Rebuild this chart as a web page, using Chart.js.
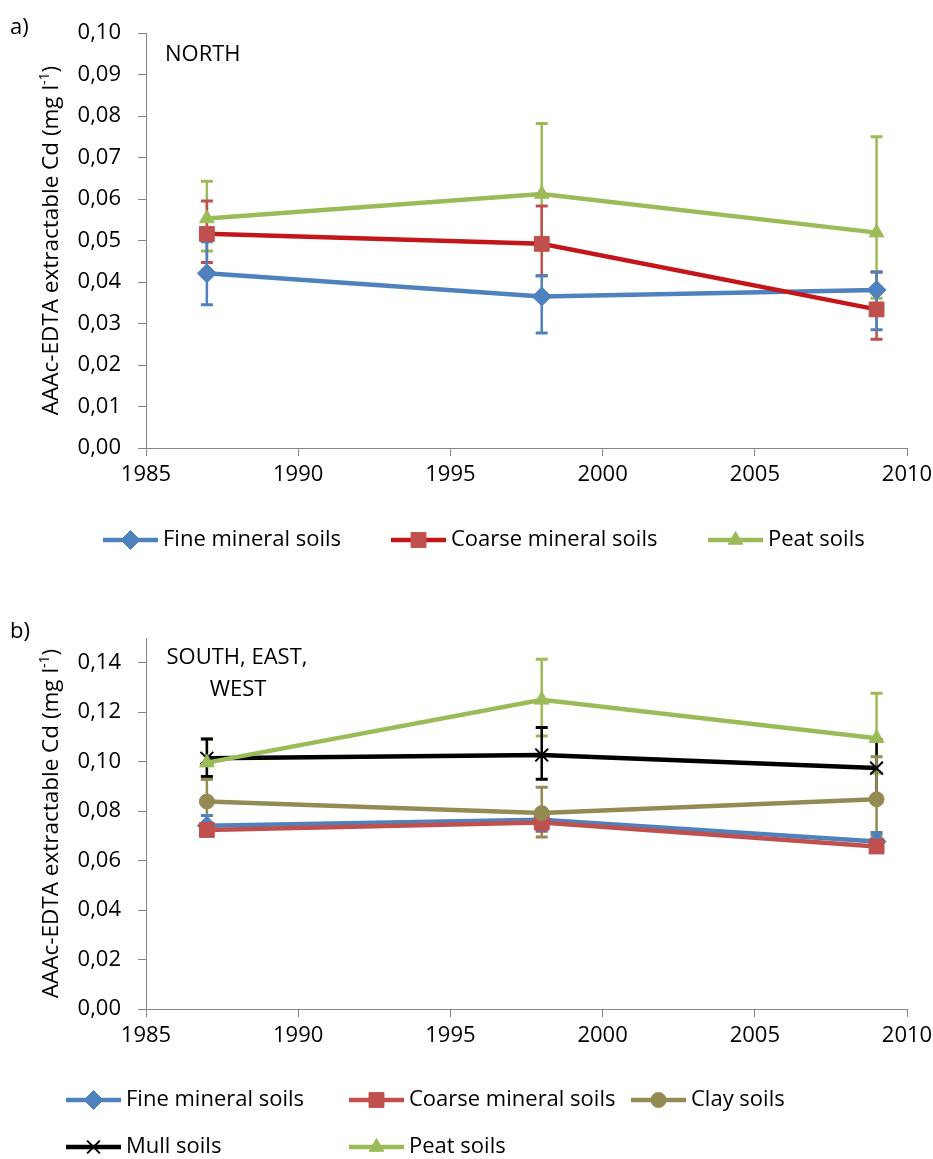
<!DOCTYPE html>
<html>
<head>
<meta charset="utf-8">
<script src="https://cdn.jsdelivr.net/npm/chart.js@4"></script>
<style>
  body { margin: 0; background: #fff; }
  canvas { display: block; }
</style>
</head>
<body>
<canvas id="chartA" width="933" height="580"></canvas>
<canvas id="chartB" width="933" height="579"></canvas>
<script>
const years = [1987, 1998, 2009];
const xTicks = [1985, 1990, 1995, 2000, 2005, 2010];

// a) NORTH
const northFine = [0.0421, 0.0365, 0.0381];
const northFinePlus = [0.0076, 0.0050, 0.0043];
const northFineMinus = [0.0076, 0.0088, 0.0096];
const northCoarse = [0.0516, 0.0492, 0.0334];
const northCoarsePlus = [0.0079, 0.0091, 0.0090];
const northCoarseMinus = [0.0069, 0.0077, 0.0072];
const northPeat = [0.0553, 0.0612, 0.0519];
const northPeatPlus = [0.0090, 0.0170, 0.0231];
const northPeatMinus = [0.0078, 0.0125, 0.0158];

// b) SOUTH, EAST, WEST
const southFine = [0.0741, 0.0765, 0.0677];
const southFinePlus = [0.0041, 0.0040, 0.0037];
const southFineMinus = [0.0041, 0.0040, 0.0037];
const southCoarse = [0.0724, 0.0754, 0.0657];
const southCoarsePlus = [0.0020, 0.0035, 0.0020];
const southCoarseMinus = [0.0020, 0.0035, 0.0020];
const southClay = [0.0839, 0.0792, 0.0848];
const southClayPlus = [0.0090, 0.0105, 0.0172];
const southClayMinus = [0.0090, 0.0097, 0.0144];
const southMull = [0.1014, 0.1027, 0.0974];
const southMullPlus = [0.0078, 0.0111, 0.0115];
const southMullMinus = [0.0074, 0.0098, 0.0115];
const southPeat = [0.0996, 0.1250, 0.1095];
const southPeatPlus = [0.0096, 0.0164, 0.0182];
const southPeatMinus = [0.0067, 0.0146, 0.0141];

const FONT = '"Open Sans", "Liberation Sans", sans-serif';
const AXIS = '#868686';

const points = vals => years.map((yr, i) => ({ x: yr, y: vals[i] }));

const series = (label, vals, plus, minus, o) => ({
    label,
    data: points(vals),
    errPlus: plus,
    errMinus: minus,
    errColor: o.marker,
    borderColor: o.line,
    borderWidth: 4.5,
    tension: 0,
    pointStyle: o.style,
    pointRadius: o.radius,
    pointHoverRadius: o.radius,
    pointBackgroundColor: o.marker,
    pointBorderColor: o.marker,
    pointBorderWidth: o.border || 1,
    order: o.order
});

const errorBars = {
    id: 'errorBars',
    beforeDatasetsDraw(chart) {
        const { ctx, scales: { x, y } } = chart;
        const sets = chart.data.datasets;
        ctx.save();
        for (let i = sets.length - 1; i >= 0; i--) {
            const ds = sets[i];
            ctx.strokeStyle = ds.errColor;
            ds.data.forEach((p, j) => {
                const px = x.getPixelForValue(p.x);
                const top = y.getPixelForValue(p.y + ds.errPlus[j]);
                const bot = y.getPixelForValue(p.y - ds.errMinus[j]);
                ctx.lineWidth = 2.5;
                ctx.beginPath();
                ctx.moveTo(px, top);
                ctx.lineTo(px, bot);
                ctx.stroke();
                ctx.lineWidth = 3;
                ctx.beginPath();
                ctx.moveTo(px - 6, top); ctx.lineTo(px + 6, top);
                ctx.moveTo(px - 6, bot); ctx.lineTo(px + 6, bot);
                ctx.stroke();
            });
        }
        ctx.restore();
    }
};

const extras = {
    id: 'extras',
    afterDraw(chart, args, opts) {
        const ctx = chart.ctx;
        const area = chart.chartArea;
        ctx.save();
        ctx.fillStyle = '#000';
        ctx.textBaseline = 'middle';
        ctx.font = '22px ' + FONT;

        opts.texts.forEach(t => {
            ctx.textAlign = t.align || 'left';
            ctx.fillText(t.text, t.x, t.y);
        });

        // y axis title with superscript
        const main = 'AAAc-EDTA extractable Cd (mg l', sup = '-1', end = ')';
        const bigFont = '22.5px ' + FONT;
        const supFont = '14px ' + FONT;
        ctx.font = bigFont;
        const w1 = ctx.measureText(main).width;
        const w3 = ctx.measureText(end).width;
        ctx.font = supFont;
        const w2 = ctx.measureText(sup).width;
        const total = w1 + w2 + w3;
        ctx.translate(52, (area.top + area.bottom) / 2);
        ctx.rotate(-Math.PI / 2);
        ctx.textAlign = 'left';
        ctx.font = bigFont;
        ctx.fillText(main, -total / 2, 0);
        ctx.font = supFont;
        ctx.fillText(sup, -total / 2 + w1, -7);
        ctx.font = bigFont;
        ctx.fillText(end, -total / 2 + w1 + w2, 0);
        ctx.setTransform(1, 0, 0, 1, 0, 0);

        // legend: line + marker + label
        opts.legend.forEach(item => {
            const ds = chart.data.datasets[item.index];
            ctx.strokeStyle = ds.borderColor;
            ctx.lineWidth = 4.5;
            ctx.beginPath();
            ctx.moveTo(item.x, item.y);
            ctx.lineTo(item.x + 55, item.y);
            ctx.stroke();
            ctx.fillStyle = ds.pointBackgroundColor;
            ctx.strokeStyle = ds.pointBorderColor;
            ctx.lineWidth = ds.pointBorderWidth;
            Chart.helpers.drawPoint(ctx, {
                pointStyle: ds.pointStyle,
                radius: ds.pointRadius,
                borderWidth: ds.pointBorderWidth,
                rotation: 0
            }, item.x + 27.5, item.y);
            ctx.fillStyle = '#000';
            ctx.textAlign = 'left';
            ctx.font = '22px ' + FONT;
            ctx.fillText(ds.label, item.x + 60, item.y);
        });
        ctx.restore();
    }
};

const comma = v => v.toFixed(2).replace('.', ',');

const makeOptions = (yMax, yStep, pad, texts, legend) => ({
    responsive: false,
    animation: false,
    layout: { padding: pad },
    plugins: {
        legend: { display: false },
        tooltip: { enabled: false },
        extras: { texts, legend }
    },
    scales: {
        x: {
            type: 'linear',
            min: 1985,
            max: 2010,
            afterFit: s => { s.height = 44; s.paddingLeft = 0; s.paddingRight = 0; },
            afterBuildTicks: s => { s.ticks = xTicks.map(v => ({ value: v })); },
            grid: { drawOnChartArea: false, tickLength: 8, color: AXIS },
            border: { color: AXIS },
            ticks: {
                padding: 6,
                color: '#000',
                font: { family: FONT, size: 22 },
                callback: v => String(v)
            }
        },
        y: {
            min: 0,
            max: yMax,
            afterFit: s => { s.width = 146; s.paddingTop = 0; s.paddingBottom = 0; },
            grid: { drawOnChartArea: false, tickLength: 8, color: AXIS },
            border: { color: AXIS },
            ticks: {
                stepSize: yStep,
                includeBounds: false,
                padding: 17,
                color: '#000',
                font: { family: FONT, size: 22 },
                callback: v => comma(v)
            }
        }
    }
});

const BLUE = '#4F81BD', RED = '#C0504D', DARKRED = '#C3161B', GREEN = '#9BBB59', TAN = '#948A54';

new Chart(document.getElementById('chartA'), {
    type: 'line',
    data: {
        datasets: [
            series('Fine mineral soils', northFine, northFinePlus, northFineMinus,
                { line: BLUE, marker: BLUE, style: 'rectRot', radius: 9.5, order: 3 }),
            series('Coarse mineral soils', northCoarse, northCoarsePlus, northCoarseMinus,
                { line: DARKRED, marker: RED, style: 'rect', radius: 10.5, order: 2 }),
            series('Peat soils', northPeat, northPeatPlus, northPeatMinus,
                { line: GREEN, marker: GREEN, style: 'triangle', radius: 8.5, order: 1 })
        ]
    },
    options: makeOptions(0.10, 0.01, { top: 33, right: 26, bottom: 88, left: 0 },
        [
            { text: 'a)', x: 10, y: 28 },
            { text: 'NORTH', x: 165, y: 55 }
        ],
        [
            { index: 0, x: 103, y: 540 },
            { index: 1, x: 391, y: 540 },
            { index: 2, x: 708, y: 540 }
        ]),
    plugins: [errorBars, extras]
});

new Chart(document.getElementById('chartB'), {
    type: 'line',
    data: {
        datasets: [
            series('Fine mineral soils', southFine, southFinePlus, southFineMinus,
                { line: BLUE, marker: BLUE, style: 'rectRot', radius: 9.5, order: 5 }),
            series('Coarse mineral soils', southCoarse, southCoarsePlus, southCoarseMinus,
                { line: RED, marker: RED, style: 'rect', radius: 10.5, order: 4 }),
            series('Clay soils', southClay, southClayPlus, southClayMinus,
                { line: TAN, marker: TAN, style: 'circle', radius: 7.5, order: 3 }),
            series('Mull soils', southMull, southMullPlus, southMullMinus,
                { line: '#000', marker: '#000', style: 'crossRot', radius: 9, border: 2, order: 2 }),
            series('Peat soils', southPeat, southPeatPlus, southPeatMinus,
                { line: GREEN, marker: GREEN, style: 'triangle', radius: 8.5, order: 1 })
        ]
    },
    options: makeOptions(0.15, 0.02, { top: 58, right: 26, bottom: 106, left: 0 },
        [
            { text: 'b)', x: 10, y: 52 },
            { text: 'SOUTH, EAST,', x: 237, y: 78, align: 'center' },
            { text: 'WEST', x: 238, y: 110, align: 'center' }
        ],
        [
            { index: 0, x: 66, y: 520 },
            { index: 1, x: 349, y: 520 },
            { index: 2, x: 631, y: 520 },
            { index: 3, x: 66, y: 567 },
            { index: 4, x: 349, y: 567 }
        ]),
    plugins: [errorBars, extras]
});
</script>
</body>
</html>
